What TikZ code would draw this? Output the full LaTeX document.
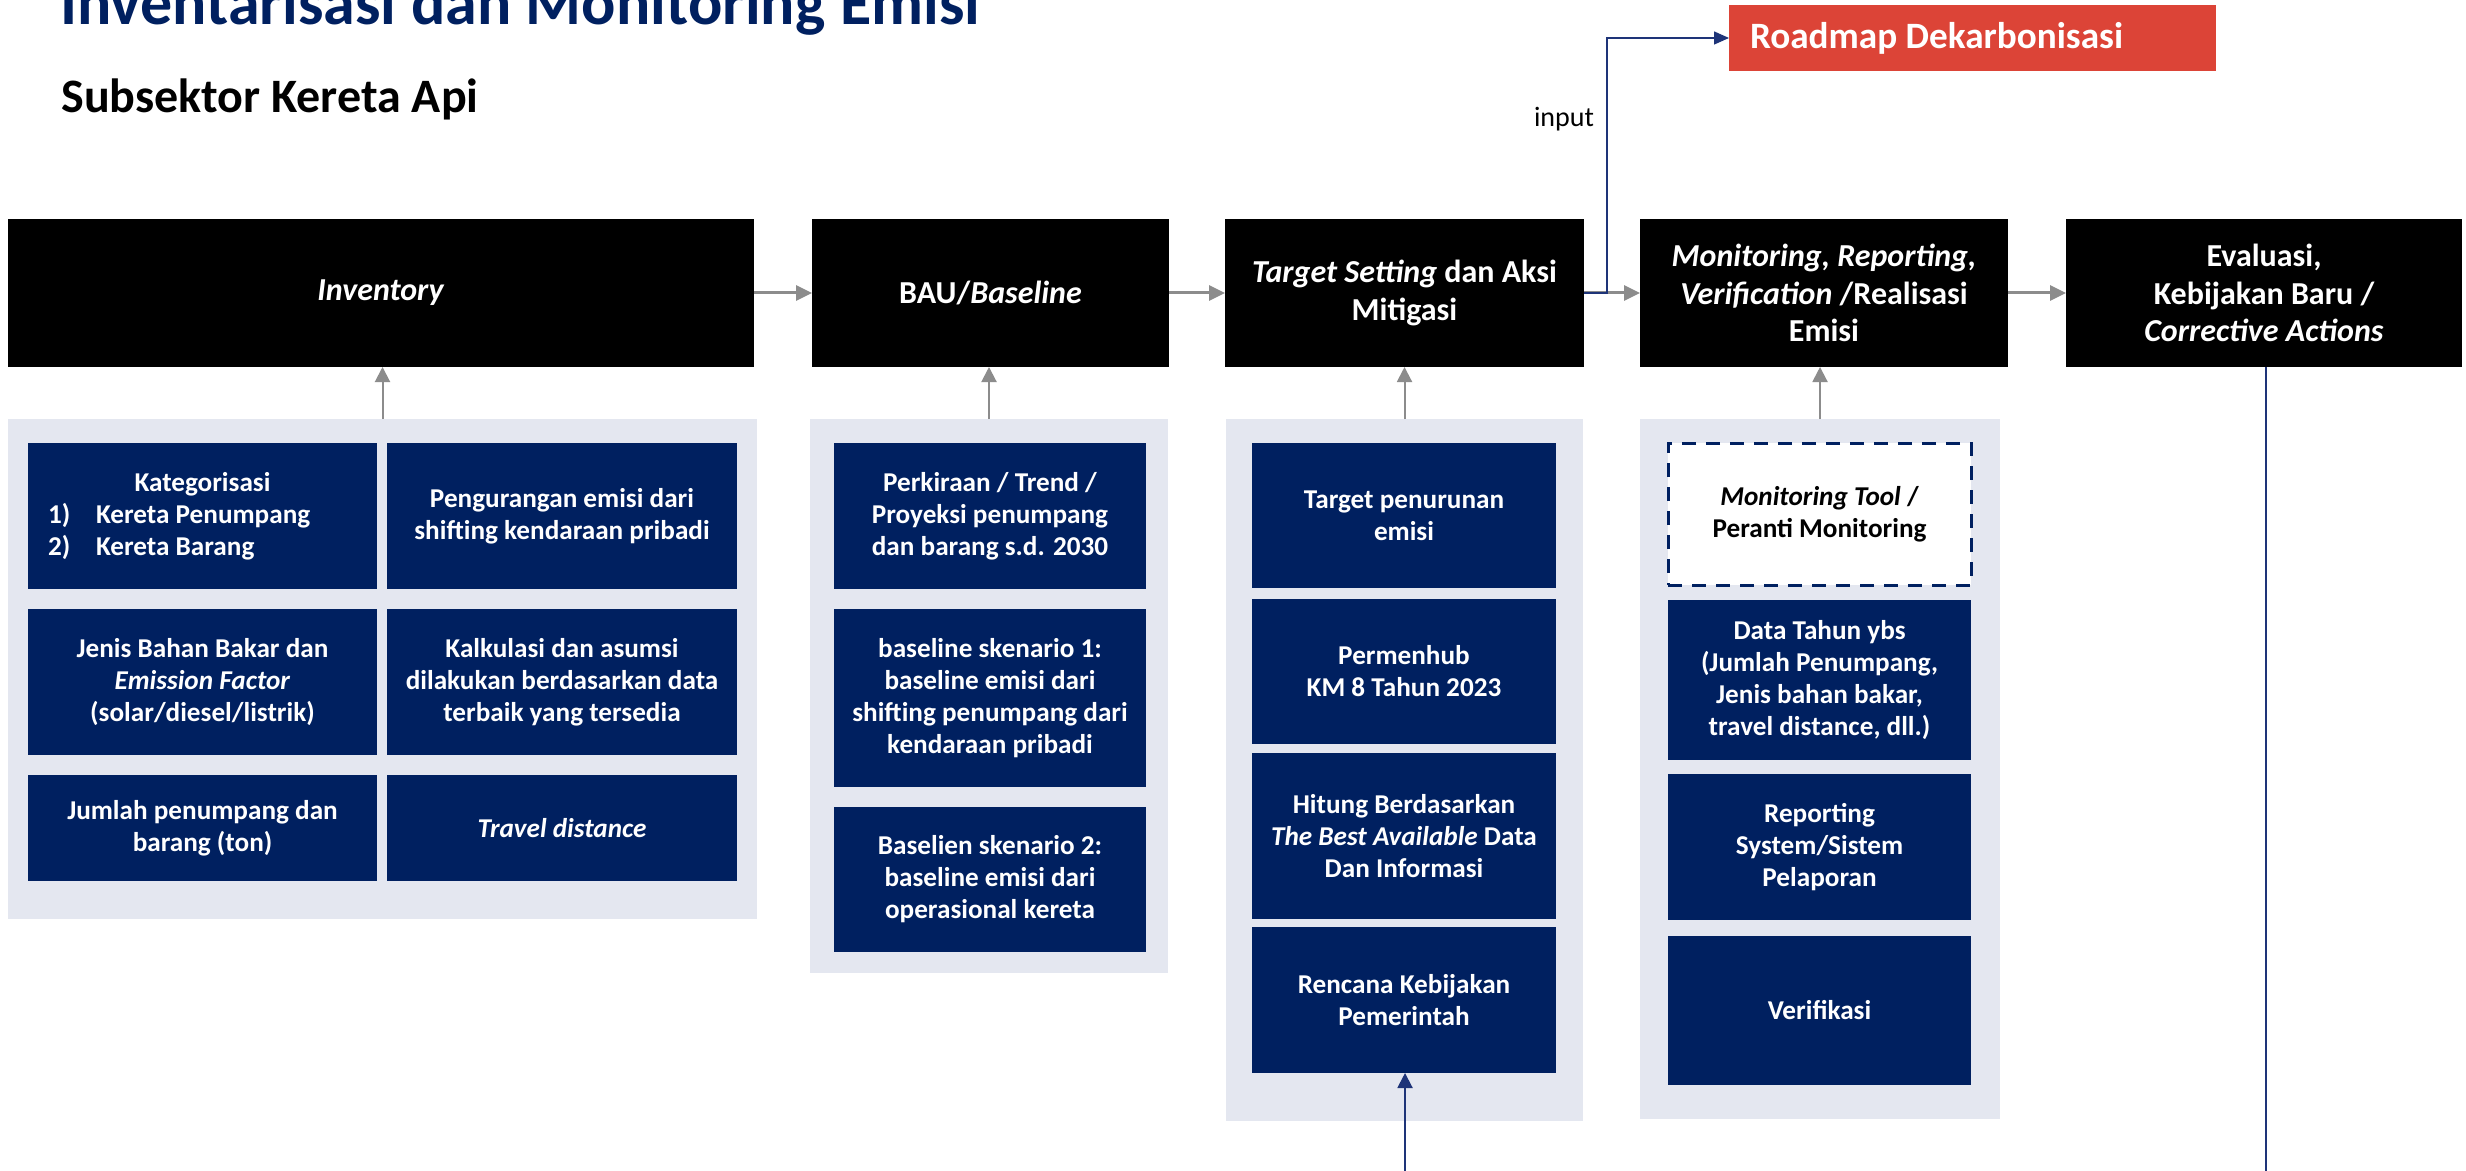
\documentclass[tikz,border=0pt]{standalone}
\usepackage{fontspec}
\setmainfont{Carlito}
\usetikzlibrary{arrows.meta,calc}
\definecolor{navy}{RGB}{0,32,96}
\definecolor{panelgray}{RGB}{228,231,240}
\definecolor{arrgray}{RGB}{140,140,140}
\definecolor{roadred}{RGB}{220,68,55}
\definecolor{linenavy}{RGB}{30,52,120}
\newcommand\hdrfont{\fontsize{16}{18.75}\selectfont\bfseries}
\newcommand\boxfont{\fontsize{13.6}{16}\selectfont\bfseries}
% #1 style, #2 name, #3 x0, #4 y0, #5 x1, #6 y1, #7 text
\newcommand\mybox[7]{\node[#1, minimum width={(#5-#3)*0.5pt}, minimum height={(#6-#4)*0.5pt}] (#2) at ({(#3+#5)/2},{(#4+#6)/2}) {#7};}
\begin{document}
\begin{tikzpicture}[x=0.5pt,y=-0.5pt,
  hdr/.style={fill=black, text=white, font=\hdrfont, align=center, inner sep=0pt, outer sep=0pt},
  panel/.style={fill=panelgray, inner sep=0pt, outer sep=0pt},
  inbox/.style={fill=navy, text=white, font=\boxfont, align=center, inner sep=0pt, outer sep=0pt},
  dashbox/.style={fill=white, draw=navy, line width=1.5pt, dash pattern=on 7pt off 5pt, text=black, font=\boxfont, align=center, inner sep=0pt, outer sep=0pt},
  roadbox/.style={fill=roadred, text=white, font=\fontsize{18.6}{22}\selectfont\bfseries, inner sep=0pt, outer sep=0pt},
  garrow/.style={draw=arrgray, line width=1.5pt, -{Triangle[length=8pt,width=7.5pt]}},
  gup/.style={draw=arrgray, line width=1pt, -{Triangle[length=7.5pt,width=7.5pt]}},
  navyarrow/.style={draw=linenavy, line width=1pt, -{Triangle[length=7.5pt,width=7.5pt]}},
  navyline/.style={draw=linenavy, line width=0.7pt},
]
\fill[white] (0,0) rectangle (2466,1171);
\useasboundingbox (0,0) rectangle (2466,1171);

% titles
\node[anchor=base west, inner sep=0pt, font=\fontsize{32}{36}\selectfont\bfseries, text=navy] (title) at (60,25) {Inventarisasi dan Monitoring Emisi};
\node[anchor=base west, inner sep=0pt, font=\fontsize{24}{28}\selectfont\bfseries, text=black] (sub) at (61,113) {Subsektor Kereta Api};

% roadmap
\mybox{roadbox}{road}{1729}{5}{2216}{71}{\makebox[243.5pt][l]{\hspace*{10.5pt}Roadmap Dekarbonisasi}}

% headers
\mybox{hdr}{inv}{8}{219}{754}{367}{\textit{Inventory}}
\mybox{hdr}{bau}{812}{219}{1169}{367}{BAU/\textit{Baseline}}
\mybox{hdr}{tgt}{1225}{219}{1584}{367}{\textit{Target Setting} dan Aksi\\Mitigasi}
\mybox{hdr}{mrv}{1640}{219}{2008}{367}{\textit{Monitoring, Reporting,}\\\textit{Verification} /Realisasi\\Emisi}
\mybox{hdr}{eva}{2066}{219}{2462}{367}{Evaluasi,\\Kebijakan Baru /\\\textit{Corrective Actions}}

% panels
\mybox{panel}{p1}{8}{419}{757}{919}{}
\mybox{panel}{p2}{810}{419}{1168}{973}{}
\mybox{panel}{p3}{1226}{419}{1583}{1121}{}
\mybox{panel}{p4}{1640}{419}{2000}{1119}{}

% inventory boxes
\mybox{inbox}{k1}{28}{443}{377}{589}{\parbox{174.5pt}{\raggedright\makebox[\linewidth][c]{Kategorisasi}\\\hspace*{10pt}\makebox[24pt][l]{1)}Kereta Penumpang\\\hspace*{10pt}\makebox[24pt][l]{2)}Kereta Barang}}
\mybox{inbox}{k2}{387}{443}{737}{589}{Pengurangan emisi dari\\shifting kendaraan pribadi}
\mybox{inbox}{k3}{28}{609}{377}{755}{Jenis Bahan Bakar dan\\\textit{Emission Factor}\\(solar/diesel/listrik)}
\mybox{inbox}{k4}{387}{609}{737}{755}{Kalkulasi dan asumsi\\dilakukan berdasarkan data\\terbaik yang tersedia}
\mybox{inbox}{k5}{28}{775}{377}{881}{Jumlah penumpang dan\\barang (ton)}
\mybox{inbox}{k6}{387}{775}{737}{881}{\textit{Travel distance}}

% baseline boxes
\mybox{inbox}{b1}{834}{443}{1146}{589}{Perkiraan / Trend /\\Proyeksi penumpang\\dan barang s.d. 2030}
\mybox{inbox}{b2}{834}{609}{1146}{787}{baseline skenario 1:\\baseline emisi dari\\shifting penumpang dari\\kendaraan pribadi}
\mybox{inbox}{b3}{834}{807}{1146}{952}{Baselien skenario 2:\\baseline emisi dari\\operasional kereta}

% target boxes
\mybox{inbox}{t1}{1252}{443}{1556}{588}{Target penurunan\\emisi}
\mybox{inbox}{t2}{1252}{599}{1556}{744}{Permenhub\\KM 8 Tahun 2023}
\mybox{inbox}{t3}{1252}{753}{1556}{919}{Hitung Berdasarkan\\\textit{The Best Available} Data\\Dan Informasi}
\mybox{inbox}{t4}{1252}{927}{1556}{1073}{Rencana Kebijakan\\Pemerintah}

% MRV boxes
\mybox{dashbox}{m1}{1668}{443}{1971}{585}{\textit{Monitoring Tool} /\\Peranti Monitoring}
\mybox{inbox}{m2}{1668}{600}{1971}{760}{Data Tahun ybs\\(Jumlah Penumpang,\\Jenis bahan bakar,\\travel distance, dll.)}
\mybox{inbox}{m3}{1668}{774}{1971}{920}{Reporting\\System/Sistem\\Pelaporan}
\mybox{inbox}{m4}{1668}{936}{1971}{1085}{Verifikasi}

% horizontal flow arrows
\draw[garrow] (inv.east) -- (bau.west);
\draw[garrow] (bau.east) -- (tgt.west);
\draw[garrow] (tgt.east) -- (mrv.west);
\draw[garrow] (mrv.east) -- (eva.west);

% input to roadmap
\coordinate (bend) at (1607,293);
\draw[navyline, -{Triangle[length=7.5pt,width=6.5pt]}] (tgt.east) -- (bend) |- (road.west);
\node[anchor=base, inner sep=0pt, font=\fontsize{14}{17}\selectfont, text=black] (inp) at (1564,127) {input};

% panels up to headers
\draw[gup] (p1.north) -- (p1.north |- inv.south);
\draw[gup] (p2.north) -- (p2.north |- bau.south);
\draw[gup] (p3.north) -- (p3.north |- tgt.south);
\draw[gup] (p4.north) -- (p4.north |- mrv.south);

% bottom arrow into Rencana Kebijakan
\coordinate (tin) at (1405,1171);
\draw[navyarrow] (tin) -- (tin |- t4.south);

% line down from Evaluasi
\coordinate (evo) at (2266,1171);
\draw[navyline] (evo |- eva.south) -- (evo);
\end{tikzpicture}
\end{document}
